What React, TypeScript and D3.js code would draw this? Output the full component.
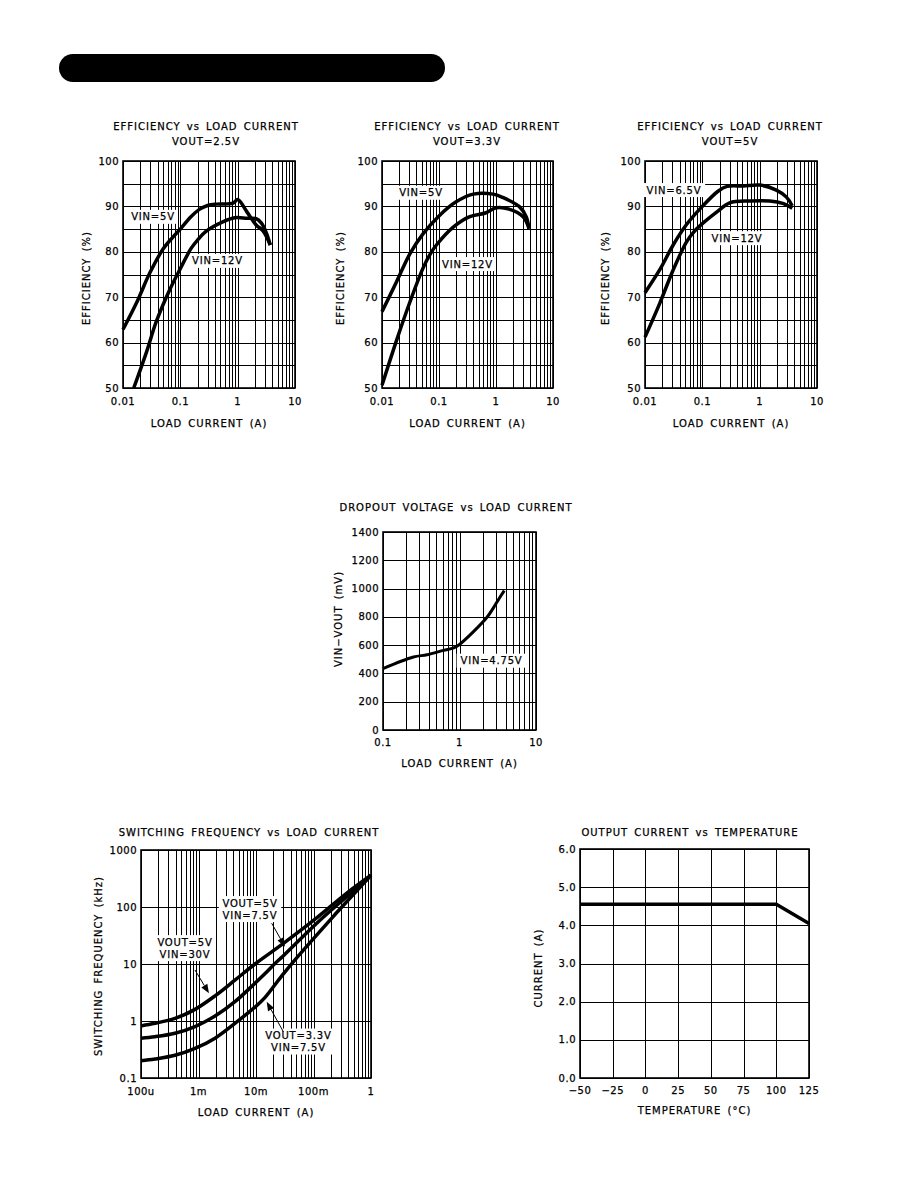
import React from "react";
import * as d3 from "d3";

// ---------------- DATA ----------------
type Pt = [number, number];

// Efficiency charts (x: load current A, y: efficiency %)
const effXTicks = [0.01, 0.1, 1, 10];
const effXTickLabels = ["0.01", "0.1", "1", "10"];
const effYTicks = [50, 60, 70, 80, 90, 100];
const effYTickLabels = ["50", "60", "70", "80", "90", "100"];
const effYGrid = [50, 55, 60, 65, 70, 75, 80, 85, 90, 95, 100];

const eff25_vin5: Pt[] = [
  [0.01, 62.9], [0.018, 69.3], [0.029, 75.2], [0.05, 80.6], [0.075, 83.3], [0.1, 85.0],
  [0.15, 87.6], [0.218, 89.4], [0.3, 90.2], [0.426, 90.5], [0.83, 90.7], [1.0, 91.5],
  [1.45, 88.8], [2.1, 85.9], [2.77, 84.6], [3.7, 81.5],
];
const eff25_vin12: Pt[] = [
  [0.0154, 50], [0.0255, 57.8], [0.038, 64.6], [0.065, 71.6], [0.1, 76.3], [0.155, 80.8],
  [0.2, 82.6], [0.28, 84.5], [0.55, 86.6], [0.89, 87.5], [1.45, 87.4], [2.1, 87.3],
  [2.6, 86.3], [3.2, 84], [3.7, 81.5],
];
const eff33_vin5: Pt[] = [
  [0.01, 66.8], [0.018, 73.4], [0.031, 79.6], [0.052, 83.9], [0.1, 87.9], [0.2, 91],
  [0.4, 92.7], [0.89, 92.7], [1.3, 92], [2.6, 89.9], [3.4, 87.7], [3.8, 85.1],
];
const eff33_vin12: Pt[] = [
  [0.01, 50.6], [0.018, 60.5], [0.031, 69], [0.052, 76.3], [0.07, 79.5], [0.09, 81.5],
  [0.18, 85.5], [0.34, 87.7], [0.67, 88.6], [1.0, 89.7], [1.7, 89.4], [3.0, 87.7], [3.8, 85.1],
];
const eff5_vin65: Pt[] = [
  [0.01, 71], [0.018, 76], [0.031, 81.5], [0.053, 86.0], [0.1, 90.0], [0.19, 93.4],
  [0.27, 94.4], [0.52, 94.5], [1.0, 94.7], [1.95, 93.6], [2.9, 92.1], [3.7, 90.1],
];
const eff5_vin12: Pt[] = [
  [0.01, 61.2], [0.018, 68.6], [0.031, 76], [0.053, 82.2], [0.07, 84.3], [0.1, 86.2],
  [0.18, 88.8], [0.3, 90.8], [0.67, 91.2], [1.5, 91.2], [2.6, 90.6], [3.7, 89.6],
];

// Dropout (x: load current A, y: mV)
const dropXTicks = [0.1, 1, 10];
const dropXTickLabels = ["0.1", "1", "10"];
const dropYTicks = [0, 200, 400, 600, 800, 1000, 1200, 1400];
const dropYTickLabels = ["0", "200", "400", "600", "800", "1000", "1200", "1400"];
const dropout_vin475: Pt[] = [
  [0.1, 434], [0.25, 516], [0.376, 532], [0.62, 563], [0.84, 581], [1.0, 605],
  [1.5, 692], [2.29, 797], [2.8, 867], [3.3, 930], [3.85, 985],
];

// Switching frequency (x: load current A, y: kHz)
const swXTicks = [1e-4, 1e-3, 1e-2, 1e-1, 1];
const swXTickLabels = ["100u", "1m", "10m", "100m", "1"];
const swYTicks = [0.1, 1, 10, 100, 1000];
const swYTickLabels = ["0.1", "1", "10", "100", "1000"];
const sw_5v_30v: Pt[] = [
  [1e-4, 0.82], [1.75e-4, 0.91], [3.9e-4, 1.11], [8.7e-4, 1.6], [1.94e-3, 2.76], [4.3e-3, 5.2],
  [9.6e-3, 10], [0.03, 23], [0.1, 58], [0.38, 175], [1, 360],
];
const sw_5v_75v: Pt[] = [
  [1e-4, 0.5], [1.75e-4, 0.53], [3.9e-4, 0.61], [8.7e-4, 0.8], [1.94e-3, 1.22], [4.3e-3, 2.18],
  [9.6e-3, 4.6], [0.0144, 6.8], [0.0214, 10.2], [0.03, 14], [0.114, 52], [0.4, 160], [1, 360],
];
const sw_33v_75v: Pt[] = [
  [1e-4, 0.2], [1.75e-4, 0.215], [3.9e-4, 0.25], [8.7e-4, 0.33], [1.94e-3, 0.5], [4.3e-3, 0.91],
  [9.6e-3, 1.75], [0.0144, 2.6], [0.026, 5.6], [0.042, 10.2], [0.22, 68], [1, 360],
];

// Output current vs temperature
const tempXTicks = [-50, -25, 0, 25, 50, 75, 100, 125];
const tempXTickLabels = ["\u221250", "\u221225", "0", "25", "50", "75", "100", "125"];
const tempYTicks = [0, 1, 2, 3, 4, 5, 6];
const tempYTickLabels = ["0.0", "1.0", "2.0", "3.0", "4.0", "5.0", "6.0"];
const outCurrent: Pt[] = [[-50, 4.55], [100, 4.55], [125, 4.05]];

// ---------------- LAYOUT / RENDER ----------------
const FONT = "DejaVu Sans";

function logGrid(domain: [number, number]) {
  const [a, b] = domain;
  const out: number[] = [];
  for (let e = Math.floor(Math.log10(a)); e <= Math.ceil(Math.log10(b)); e++) {
    for (let k = 1; k <= 9; k++) {
      const v = k * Math.pow(10, e);
      if (v >= a * 0.999 && v <= b * 1.001) out.push(v);
    }
  }
  return out;
}

type Label = { x: number; y: number; lines: string[] };
type Arrow = { from: Pt; to: Pt };

type Cfg = {
  box: { l: number; r: number; t: number; b: number };
  xLog: boolean;
  yLog: boolean;
  xDomain: [number, number];
  yDomain: [number, number];
  xGrid: number[];
  yGrid: number[];
  xTicks: number[];
  xTickLabels: string[];
  yTicks: number[];
  yTickLabels: string[];
  title: string[];
  titleX: number;
  titleY: number;
  xTitle: string;
  xTickY: number;
  xTitleY: number;
  yTitle: string;
  yTitleX: number;
  yTitleY: number;
  series: Pt[][];
  linear?: boolean;
  labels: Label[];
  arrows?: Arrow[];
  sw?: number;
};

const textStroke = { stroke: "#000", strokeWidth: 0.25 };
const tickStyle: React.CSSProperties = { fontFamily: FONT, fontSize: 10, letterSpacing: 0.5 };
const titleStyle: React.CSSProperties = { fontFamily: FONT, fontSize: 10, letterSpacing: 1, wordSpacing: 2 };
const labelStyle: React.CSSProperties = { fontFamily: FONT, fontSize: 10, letterSpacing: 0.8 };

function Chart({ c }: { c: Cfg }) {
  const { l, r, t, b } = c.box;
  const x = (c.xLog ? d3.scaleLog() : d3.scaleLinear()).domain(c.xDomain).range([l, r]);
  const y = (c.yLog ? d3.scaleLog() : d3.scaleLinear()).domain(c.yDomain).range([b, t]);
  const line = d3
    .line<Pt>()
    .x((d) => x(d[0]))
    .y((d) => y(d[1]))
    .curve(c.linear ? d3.curveLinear : d3.curveCatmullRom.alpha(0.5));
  const px = (v: number) => Math.round(v) + 0.5;
  return (
    <g>
      {c.title.map((s, i) => (
        <text key={"t" + i} x={c.titleX} y={c.titleY + i * 15} textAnchor="middle" dominantBaseline="central" style={titleStyle} {...textStroke}>
          {s}
        </text>
      ))}
      {c.xGrid.map((v, i) => (
        <line key={"gx" + i} x1={px(x(v))} x2={px(x(v))} y1={t} y2={b} stroke="#000" strokeWidth={1} shapeRendering="crispEdges" />
      ))}
      {c.yGrid.map((v, i) => (
        <line key={"gy" + i} x1={l} x2={r} y1={px(y(v))} y2={px(y(v))} stroke="#000" strokeWidth={1} shapeRendering="crispEdges" />
      ))}
      <rect x={l} y={t} width={r - l} height={b - t} fill="none" stroke="#000" strokeWidth={1.6} />
      {c.labels.map((lb, i) => {
        const maxLen = Math.max(...lb.lines.map((s) => s.length));
        const w = maxLen * 7.3 + 4;
        const h = lb.lines.length * 12 + 2;
        const cx = x(lb.x);
        const cy = y(lb.y);
        return (
          <g key={"lb" + i}>
            <rect x={cx - w / 2} y={cy - h / 2} width={w} height={h} fill="#fff" />
            {lb.lines.map((s, j) => (
              <text key={j} x={cx} y={cy + (j - (lb.lines.length - 1) / 2) * 12} textAnchor="middle" dominantBaseline="central" style={labelStyle} {...textStroke}>
                {s}
              </text>
            ))}
          </g>
        );
      })}
      {c.series.map((s, i) => (
        <path key={"s" + i} d={line(s) || ""} fill="none" stroke="#000" strokeWidth={c.sw ?? 3.5} strokeLinejoin="round" strokeLinecap="butt" />
      ))}
      {(c.arrows || []).map((a, i) => {
        const x1 = x(a.from[0]), y1 = y(a.from[1]);
        const x2 = x(a.to[0]), y2 = y(a.to[1]);
        const ang = Math.atan2(y2 - y1, x2 - x1);
        const L = 9, W = 3.5;
        const bx = x2 - L * Math.cos(ang), by = y2 - L * Math.sin(ang);
        const p1 = [bx + W * Math.sin(ang), by - W * Math.cos(ang)];
        const p2 = [bx - W * Math.sin(ang), by + W * Math.cos(ang)];
        return (
          <g key={"a" + i}>
            <line x1={x1} y1={y1} x2={bx} y2={by} stroke="#000" strokeWidth={1} />
            <polygon points={`${x2},${y2} ${p1[0]},${p1[1]} ${p2[0]},${p2[1]}`} fill="#000" />
          </g>
        );
      })}
      {c.xTicks.map((v, i) => (
        <text key={"xt" + i} x={x(v)} y={c.xTickY} textAnchor="middle" dominantBaseline="central" style={tickStyle} {...textStroke}>
          {c.xTickLabels[i]}
        </text>
      ))}
      {c.yTicks.map((v, i) => (
        <text key={"yt" + i} x={l - 4} y={y(v)} textAnchor="end" dominantBaseline="central" style={tickStyle} {...textStroke}>
          {c.yTickLabels[i]}
        </text>
      ))}
      <text x={(l + r) / 2} y={c.xTitleY} textAnchor="middle" dominantBaseline="central" style={titleStyle} {...textStroke}>
        {c.xTitle}
      </text>
      <text transform={`translate(${c.yTitleX},${c.yTitleY}) rotate(-90)`} textAnchor="middle" dominantBaseline="central" style={titleStyle} {...textStroke}>
        {c.yTitle}
      </text>
    </g>
  );
}

function effCfg(l: number, r: number, titleX: number, yTitleX: number, vout: string, series: Pt[][], labels: Label[]): Cfg {
  return {
    box: { l, r, t: 161, b: 388 },
    xLog: true,
    yLog: false,
    xDomain: [0.01, 10],
    yDomain: [50, 100],
    xGrid: logGrid([0.01, 10]),
    yGrid: effYGrid,
    xTicks: effXTicks,
    xTickLabels: effXTickLabels,
    yTicks: effYTicks,
    yTickLabels: effYTickLabels,
    title: ["EFFICIENCY vs LOAD CURRENT", vout],
    titleX,
    titleY: 126,
    xTitle: "LOAD CURRENT (A)",
    xTickY: 401,
    xTitleY: 423,
    yTitle: "EFFICIENCY (%)",
    yTitleX,
    yTitleY: 278,
    series,
    labels,
  };
}

const charts: Cfg[] = [
  effCfg(123, 295, 206, 86, "VOUT=2.5V", [eff25_vin5, eff25_vin12], [
    { x: 0.0334, y: 87.7, lines: ["VIN=5V"] },
    { x: 0.445, y: 78.0, lines: ["VIN=12V"] },
  ]),
  effCfg(382, 553, 467, 340, "VOUT=3.3V", [eff33_vin5, eff33_vin12], [
    { x: 0.0483, y: 93.0, lines: ["VIN=5V"] },
    { x: 0.316, y: 77.3, lines: ["VIN=12V"] },
  ]),
  effCfg(645, 817, 730, 605, "VOUT=5V", [eff5_vin65, eff5_vin12], [
    { x: 0.032, y: 93.6, lines: ["VIN=6.5V"] },
    { x: 0.403, y: 83.0, lines: ["VIN=12V"] },
  ]),
  {
    box: { l: 383, r: 536, t: 532, b: 730 },
    xLog: true,
    yLog: false,
    xDomain: [0.1, 10],
    yDomain: [0, 1400],
    xGrid: logGrid([0.1, 10]),
    yGrid: dropYTicks,
    xTicks: dropXTicks,
    xTickLabels: dropXTickLabels,
    yTicks: dropYTicks,
    yTickLabels: dropYTickLabels,
    title: ["DROPOUT VOLTAGE vs LOAD CURRENT"],
    titleX: 456,
    titleY: 507,
    xTitle: "LOAD CURRENT (A)",
    xTickY: 742,
    xTitleY: 763,
    yTitle: "VIN\u2212VOUT (mV)",
    yTitleX: 338,
    yTitleY: 619,
    series: [dropout_vin475],
    labels: [{ x: 2.62, y: 490, lines: ["VIN=4.75V"] }],
    sw: 3,
  },
  {
    box: { l: 141, r: 371, t: 850, b: 1078 },
    xLog: true,
    yLog: true,
    xDomain: [1e-4, 1],
    yDomain: [0.1, 1000],
    xGrid: logGrid([1e-4, 1]),
    yGrid: swYTicks,
    xTicks: swXTicks,
    xTickLabels: swXTickLabels,
    yTicks: swYTicks,
    yTickLabels: swYTickLabels,
    title: ["SWITCHING FREQUENCY vs LOAD CURRENT"],
    titleX: 249,
    titleY: 832,
    xTitle: "LOAD CURRENT (A)",
    xTickY: 1091,
    xTitleY: 1112,
    yTitle: "SWITCHING FREQUENCY (kHz)",
    yTitleX: 98,
    yTitleY: 966,
    series: [sw_5v_30v, sw_5v_75v, sw_33v_75v],
    labels: [
      { x: 7.87e-3, y: 92, lines: ["VOUT=5V", "VIN=7.5V"] },
      { x: 5.82e-4, y: 19, lines: ["VOUT=5V", "VIN=30V"] },
      { x: 0.0548, y: 0.436, lines: ["VOUT=3.3V", "VIN=7.5V"] },
    ],
    arrows: [
      { from: [8.69e-4, 7.85], to: [1.52e-3, 3.06] },
      { from: [0.01875, 51.8], to: [0.0319, 20.1] },
      { from: [0.0299, 0.648], to: [0.01535, 2.18] },
    ],
  },
  {
    box: { l: 580, r: 809, t: 849, b: 1078 },
    xLog: false,
    yLog: false,
    xDomain: [-50, 125],
    yDomain: [0, 6],
    xGrid: tempXTicks,
    yGrid: tempYTicks,
    xTicks: tempXTicks,
    xTickLabels: tempXTickLabels,
    yTicks: tempYTicks,
    yTickLabels: tempYTickLabels,
    title: ["OUTPUT CURRENT vs TEMPERATURE"],
    titleX: 690,
    titleY: 832,
    xTitle: "TEMPERATURE (\u00B0C)",
    xTickY: 1090,
    xTitleY: 1110,
    yTitle: "CURRENT (A)",
    yTitleX: 538,
    yTitleY: 968,
    series: [outCurrent],
    linear: true,
    labels: [],
  },
];

export default function App() {
  return (
    <svg
      width={918}
      height={1188}
      viewBox="0 0 918 1188"
      style={{ position: "absolute", left: 0, top: 0, display: "block", background: "#fff" }}
    >
      <rect x={0} y={0} width={918} height={1188} fill="#fff" />
      <rect x={59} y={54} width={386} height={28} rx={14} ry={14} fill="#000" />
      {charts.map((c, i) => (
        <Chart key={i} c={c} />
      ))}
    </svg>
  );
}
